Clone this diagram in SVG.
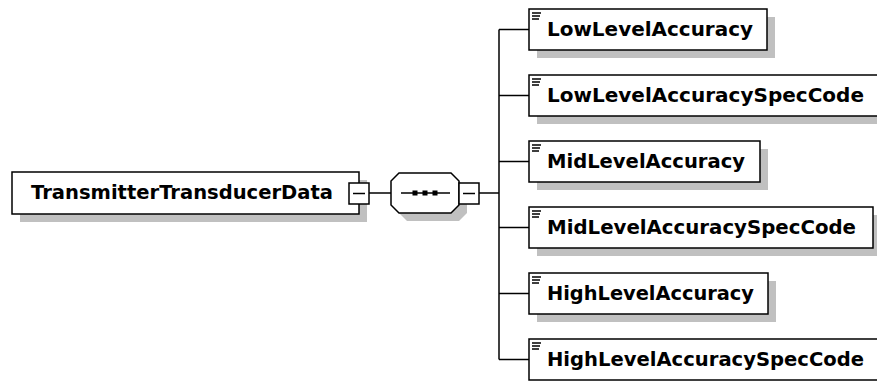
<svg xmlns="http://www.w3.org/2000/svg" width="877" height="381" viewBox="0 0 877 381">
<defs>
<style>
.box{fill:#fff;stroke:#000;stroke-width:1.5}
.shadow{fill:#c0c0c0;stroke:none}
.conn{fill:none;stroke:#000;stroke-width:1.5}
.lbl{font-family:"DejaVu Sans",Verdana,sans-serif;font-weight:bold;font-size:19px;fill:#000}
.icon{stroke:#000;stroke-width:1.5;fill:none}
</style>
</defs>
<rect x="0" y="0" width="877" height="381" fill="#fff"/>
<g id="connectors">
<line class="conn" x1="369" y1="193" x2="391" y2="193"/>
<line class="conn" x1="479" y1="193" x2="499" y2="193"/>
<line class="conn" x1="499" y1="29.5" x2="499" y2="359.5"/>
<line class="conn" x1="499" y1="29.5" x2="529" y2="29.5"/>
<line class="conn" x1="499" y1="95.5" x2="529" y2="95.5"/>
<line class="conn" x1="499" y1="161.5" x2="529" y2="161.5"/>
<line class="conn" x1="499" y1="227.5" x2="529" y2="227.5"/>
<line class="conn" x1="499" y1="293.5" x2="529" y2="293.5"/>
<line class="conn" x1="499" y1="359.5" x2="529" y2="359.5"/>
</g>
<g id="TransmitterTransducerData">
<rect class="shadow" x="20" y="180" width="347" height="42"/>
<rect class="box" x="12" y="172" width="347" height="42"/>
<text class="lbl" x="31" y="199" textLength="302" lengthAdjust="spacingAndGlyphs">TransmitterTransducerData</text>
<rect class="box" x="349" y="183" width="20" height="21"/>
<line class="conn" x1="353" y1="193.5" x2="365" y2="193.5"/>
</g>
<g id="sequence">
<polygon class="shadow" points="407,181 459,181 467,189 467,213 459,221 407,221 399,213 399,189"/>
<polygon class="box" points="399,173 451,173 459,181 459,205 451,213 399,213 391,205 391,181"/>
<line class="conn" x1="401" y1="193" x2="450" y2="193"/>
<rect x="412.5" y="190.5" width="5" height="5" fill="#000"/>
<rect x="422.5" y="190.5" width="5" height="5" fill="#000"/>
<rect x="432.5" y="190.5" width="5" height="5" fill="#000"/>
<rect class="box" x="459" y="183" width="20" height="21"/>
<line class="conn" x1="463" y1="193.5" x2="475" y2="193.5"/>
</g>
<g id="LowLevelAccuracy">
<rect class="shadow" x="537" y="17" width="238" height="41"/>
<rect class="box" x="529" y="9" width="238" height="41"/>
<path class="icon" d="M532,13h9M532,16h8M532,19h7"/>
<text class="lbl" x="547" y="36" textLength="206" lengthAdjust="spacingAndGlyphs">LowLevelAccuracy</text>
</g>
<g id="LowLevelAccuracySpecCode">
<rect class="shadow" x="537" y="83" width="350" height="41"/>
<rect class="box" x="529" y="75" width="350" height="41"/>
<path class="icon" d="M532,79h9M532,82h8M532,85h7"/>
<text class="lbl" x="547" y="102" textLength="317" lengthAdjust="spacingAndGlyphs">LowLevelAccuracySpecCode</text>
</g>
<g id="MidLevelAccuracy">
<rect class="shadow" x="537" y="149" width="231" height="41"/>
<rect class="box" x="529" y="141" width="231" height="41"/>
<path class="icon" d="M532,145h9M532,148h8M532,151h7"/>
<text class="lbl" x="547" y="168" textLength="198" lengthAdjust="spacingAndGlyphs">MidLevelAccuracy</text>
</g>
<g id="MidLevelAccuracySpecCode">
<rect class="shadow" x="537" y="215" width="344" height="41"/>
<rect class="box" x="529" y="207" width="344" height="41"/>
<path class="icon" d="M532,211h9M532,214h8M532,217h7"/>
<text class="lbl" x="547" y="234" textLength="309" lengthAdjust="spacingAndGlyphs">MidLevelAccuracySpecCode</text>
</g>
<g id="HighLevelAccuracy">
<rect class="shadow" x="537" y="281" width="239" height="41"/>
<rect class="box" x="529" y="273" width="239" height="41"/>
<path class="icon" d="M532,277h9M532,280h8M532,283h7"/>
<text class="lbl" x="547" y="300" textLength="207" lengthAdjust="spacingAndGlyphs">HighLevelAccuracy</text>
</g>
<g id="HighLevelAccuracySpecCode">
<rect class="box" x="529" y="339" width="350" height="41"/>
<path class="icon" d="M532,343h9M532,346h8M532,349h7"/>
<text class="lbl" x="547" y="366" textLength="317" lengthAdjust="spacingAndGlyphs">HighLevelAccuracySpecCode</text>
</g>
</svg>
